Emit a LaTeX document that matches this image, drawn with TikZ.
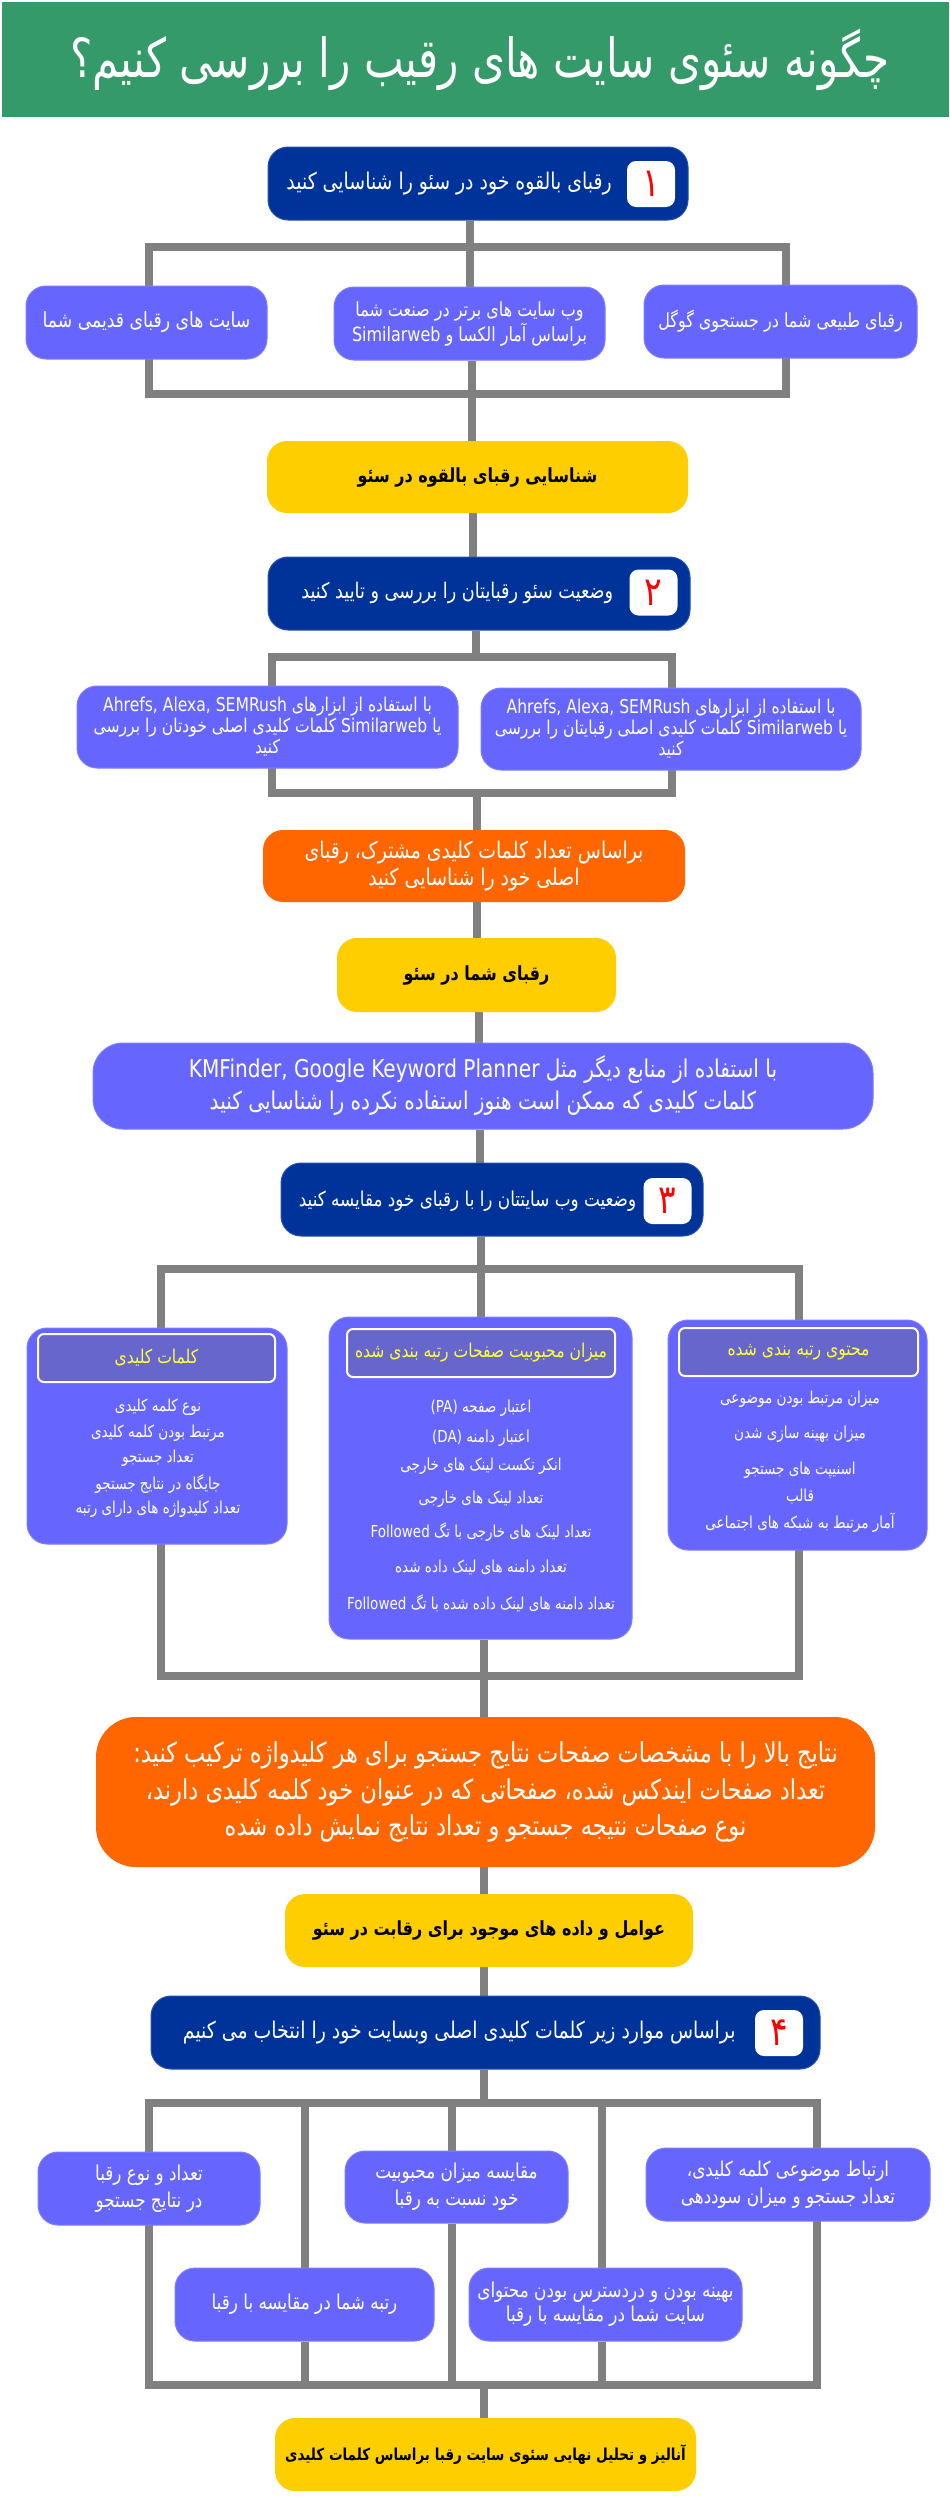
\documentclass[tikz,border=0pt]{standalone}
\usepackage{fontspec}
\usetikzlibrary{calc}
\TeXXeTstate=1
\newfontfamily\fa[Script=Arabic,FakeStretch=0.82]{DejaVu Sans}
\newfontfamily\fat[Script=Arabic,FakeStretch=0.78]{DejaVu Sans}
\newfontfamily\la[FakeStretch=0.82]{DejaVu Sans}
\newcommand{\rl}[1]{{\fa\beginR #1\endR}}
\newcommand{\lt}[1]{{\la\beginL #1\endL}}
\newcommand{\fz}[2]{\fontsize{#1}{#2}\selectfont}
\definecolor{hdrgreen}{RGB}{53,154,105}
\definecolor{dblue}{RGB}{0,51,153}
\definecolor{dbord}{RGB}{40,80,175}
\definecolor{peri}{RGB}{102,102,255}
\definecolor{pbord}{RGB}{125,125,255}
\definecolor{yel}{RGB}{255,206,0}
\definecolor{org}{RGB}{255,102,0}
\definecolor{hpur}{RGB}{102,102,204}
\definecolor{htxt}{RGB}{255,255,51}
\definecolor{lgray}{RGB}{128,128,128}
\pgfdeclarelayer{bottom}
\pgfdeclarelayer{background}
\pgfsetlayers{bottom,background,main}
\tikzset{
  hdr/.style={fill=hdrgreen, inner sep=0, minimum width=947pt, minimum height=115pt},
  ttl/.style={text=white, inner sep=0, font=\fz{54}{60}},
  stepbox/.style={fill=dblue, draw=dbord, line width=1pt, rounded corners=20pt, inner sep=0, minimum height=73pt},
  badge/.style={fill=white, rounded corners=9pt, inner sep=0, minimum width=48pt, minimum height=46pt, text=red, font=\fz{40}{40}},
  steptxt/.style={text=white, inner sep=0, anchor=east, font=\fz{22}{26}},
  pbox/.style={fill=peri, draw=pbord, line width=1pt, rounded corners=20pt, inner sep=0, text=white, align=center, font=\fz{19.5}{25}},
  ybox/.style={fill=yel, rounded corners=20pt, inner sep=0, text=black, align=center, font=\fz{19.5}{24}\bfseries},
  obox/.style={fill=org, rounded corners=24pt, inner sep=0, text=white, align=center, font=\fz{23}{27}},
  ihdr/.style={fill=hpur, draw=white, line width=2pt, rounded corners=6pt, inner sep=0, text=htxt, font=\fz{19}{22}},
  ltxt/.style={text=white, inner sep=0, font=\fz{16.5}{20}},
  conn/.style={draw=lgray, line width=8pt},
}
\begin{document}
\begin{tikzpicture}[x=1pt,y=-1pt]
\useasboundingbox (0,0) rectangle (950,2505);
\begin{pgfonlayer}{bottom}
\fill[white] (0,0) rectangle (950,2505);
\end{pgfonlayer}
% header
\node[hdr] (hdr) at (475.5,59.5) {};
\node[ttl] (ttl) at (480,60) {{\fat\beginR چگونه سئوی سایت های رقیب را بررسی کنیم؟\endR}};
% step 1
\node[stepbox, minimum width=420pt] (b1) at (478,183.5) {};
\node[badge] (n1) at (651,184) {\rl{۱}};
\node[steptxt, font=\fz{23}{26}] (t1) at ($(n1.west)+(-15,0)$) {\rl{رقبای بالقوه خود در سئو را شناسایی کنید}};
\node[pbox, minimum width=241pt, minimum height=73pt, font=\fz{21}{25}] (r1l) at (146.5,322.5) {\rl{سایت های رقبای قدیمی شما}};
\node[pbox, minimum width=271pt, minimum height=73pt] (r1m) at (469.5,323.5) {\rl{وب سایت های برتر در صنعت شما}\\\rl{براساس آمار الکسا و \lt{Similarweb}}};
\node[pbox, minimum width=273pt, minimum height=73pt] (r1r) at (780.5,321.5) {\rl{رقبای طبیعی شما در جستجوی گوگل}};
\node[ybox, minimum width=421pt, minimum height=72pt] (y1) at (477.5,477) {\rl{شناسایی رقبای بالقوه در سئو}};
% step 2
\node[stepbox, minimum width=422pt] (b2) at (479,593.5) {};
\node[badge] (n2) at (653.5,592.5) {\rl{۲}};
\node[steptxt, font=\fz{21.5}{26}] (t2) at ($(n2.west)+(-16,0)$) {\rl{وضعیت سئو رقبایتان را بررسی و تایید کنید}};
\node[pbox, minimum width=381pt, minimum height=82pt, font=\fz{19}{21}] (r2l) at (267.5,727) {\rl{با استفاده از ابزارهای \lt{Ahrefs, Alexa, SEMRush}}\\\rl{یا \lt{Similarweb}  کلمات کلیدی اصلی خودتان را بررسی}\\\rl{کنید}};
\node[pbox, minimum width=380pt, minimum height=82pt, font=\fz{19}{21}] (r2r) at (671,729) {\rl{با استفاده از ابزارهای \lt{Ahrefs, Alexa, SEMRush}}\\\rl{یا \lt{Similarweb}  کلمات کلیدی اصلی رقبایتان را بررسی}\\\rl{کنید}};
\node[obox, minimum width=422pt, minimum height=72pt, rounded corners=20pt] (o1) at (474,866) {\rl{براساس تعداد کلمات کلیدی مشترک، رقبای}\\\rl{اصلی خود را شناسایی کنید}};
\node[ybox, minimum width=279pt, minimum height=74pt] (y2) at (476.5,975) {\rl{رقبای شما در سئو}};
\node[pbox, minimum width=780pt, minimum height=86pt, rounded corners=30pt, font=\fz{24.5}{32}] (wide) at (483,1086) {\rl{با استفاده از منابع دیگر مثل  \lt{KMFinder, Google Keyword Planner}}\\\rl{کلمات کلیدی که ممکن است هنوز استفاده نکرده را شناسایی کنید}};
% step 3
\node[stepbox, minimum width=422pt] (b3) at (492,1199.5) {};
\node[badge] (n3) at (667.5,1201) {\rl{۳}};
\node[steptxt, font=\fz{20.5}{26}] (t3) at ($(n3.west)+(-7,0)$) {\rl{وضعیت وب سایتتان را با رقبای خود مقایسه کنید}};
\node[pbox, minimum width=260pt, minimum height=216pt] (r3l) at (157,1436) {};
\node[pbox, minimum width=303pt, minimum height=322pt] (r3m) at (480.5,1478) {};
\node[pbox, minimum width=259pt, minimum height=230pt] (r3r) at (797.5,1435) {};
\node[ihdr, minimum width=237pt, minimum height=48pt] (h3l) at (156.5,1358) {\rl{کلمات کلیدی}};
\node[ihdr, minimum width=268pt, minimum height=48pt] (h3m) at (481,1353) {\rl{میزان محبوبیت صفحات رتبه بندی شده}};
\node[ihdr, minimum width=239pt, minimum height=48pt] (h3r) at (798.5,1352) {\rl{محتوی رتبه بندی شده}};
% left list
\node[ltxt] (l1) at (158,1407) {\rl{نوع کلمه کلیدی}};
\node[ltxt] (l2) at (158,1433) {\rl{مرتبط بودن کلمه کلیدی}};
\node[ltxt] (l3) at (158,1458) {\rl{تعداد جستجو}};
\node[ltxt] (l4) at (158,1484) {\rl{جایگاه در نتایج جستجو}};
\node[ltxt] (l5) at (158,1509) {\rl{تعداد کلیدواژه های دارای رتبه}};
% middle list
\node[ltxt] (m1) at (481,1408) {\rl{اعتبار صفحه \lt{(PA)}}};
\node[ltxt] (m2) at (481,1438) {\rl{اعتبار دامنه \lt{(DA)}}};
\node[ltxt] (m3) at (481,1466) {\rl{انکر تکست لینک های خارجی}};
\node[ltxt] (m4) at (481,1499) {\rl{تعداد لینک های خارجی}};
\node[ltxt] (m5) at (481,1532) {\rl{تعداد لینک های خارجی با تگ \lt{Followed}}};
\node[ltxt] (m6) at (481,1567) {\rl{تعداد دامنه های لینک داده شده}};
\node[ltxt] (m7) at (481,1603) {\rl{تعداد دامنه های لینک داده شده با تگ  \lt{Followed}}};
% right list
\node[ltxt] (q1) at (800,1399) {\rl{میزان مرتبط بودن موضوعی}};
\node[ltxt] (q2) at (800,1434) {\rl{میزان بهینه سازی شدن}};
\node[ltxt] (q3) at (800,1470) {\rl{اسنیپت های جستجو}};
\node[ltxt] (q4) at (800,1497) {\rl{قالب}};
\node[ltxt] (q5) at (800,1523) {\rl{آمار مرتبط به شبکه های اجتماعی}};
\node[obox, minimum width=779pt, minimum height=150pt, rounded corners=40pt, font=\fz{27.5}{36.5}] (o2) at (485.5,1792) {\rl{نتایج بالا را با مشخصات صفحات نتایج جستجو برای هر کلیدواژه ترکیب کنید:}\\\rl{تعداد صفحات ایندکس شده، صفحاتی که در عنوان خود کلمه کلیدی دارند،}\\\rl{نوع صفحات نتیجه جستجو و تعداد نتایج نمایش داده شده}};
\node[ybox, minimum width=408pt, minimum height=73pt] (y3) at (489,1930.5) {\rl{عوامل و داده های موجود برای رقابت در سئو}};
% step 4
\node[stepbox, minimum width=669pt] (b4) at (485.5,2032.5) {};
\node[badge] (n4) at (779,2033) {\rl{۴}};
\node[steptxt, font=\fz{23}{26}] (t4) at ($(n4.west)+(-19,0)$) {\rl{براساس موارد زیر کلمات کلیدی اصلی وبسایت خود را انتخاب می کنیم}};
\node[pbox, minimum width=222pt, minimum height=73pt, font=\fz{20.5}{27}] (r4a) at (149,2188.5) {\rl{تعداد و نوع رقبا}\\\rl{در نتایج جستجو}};
\node[pbox, minimum width=223pt, minimum height=72pt, font=\fz{20.5}{27}] (r4b) at (456.5,2187) {\rl{مقایسه میزان محبوبیت}\\\rl{خود نسبت به رقبا}};
\node[pbox, minimum width=284pt, minimum height=73pt, font=\fz{20.5}{27}] (r4c) at (788,2184.5) {\rl{ارتباط موضوعی کلمه کلیدی،}\\\rl{تعداد جستجو و میزان سوددهی}};
\node[pbox, minimum width=259pt, minimum height=73pt, font=\fz{20.5}{27}] (r4d) at (304.5,2304.5) {\rl{رتبه شما در مقایسه با رقبا}};
\node[pbox, minimum width=273pt, minimum height=73pt, font=\fz{20.5}{24}] (r4e) at (605.5,2304.5) {\rl{بهینه بودن و دردسترس بودن محتوای}\\\rl{سایت شما در مقایسه با رقبا}};
\node[ybox, minimum width=421pt, minimum height=73pt, font=\fz{16.5}{24}\bfseries] (yf) at (485.5,2454.5) {\rl{آنالیز و تحلیل نهایی سئوی سایت رقبا براساس کلمات کلیدی}};
% connectors
\begin{pgfonlayer}{background}
\coordinate (k1a) at (149,247); \coordinate (k1b) at (786,394);
\coordinate (k1t) at (470,247); \coordinate (k1u) at (472,394);
\draw[conn] (k1a) rectangle (k1b);
\draw[conn] (b1.south -| k1t) -- (k1t) -- (r1m.north -| k1t);
\draw[conn] (r1m.south -| k1u) -- (k1u) -- (y1.north -| k1u);
\coordinate (c12) at (473,0);
\draw[conn] (y1.south -| c12) -- (b2.north -| c12);
\coordinate (k2a) at (272,657); \coordinate (k2b) at (672,793);
\coordinate (k2t) at (476,657); \coordinate (k2u) at (477,793);
\draw[conn] (k2a) rectangle (k2b);
\draw[conn] (b2.south -| k2t) -- (k2t);
\draw[conn] (k2u) -- (o1.north -| k2u);
\draw[conn] (o1.south -| k2u) -- (y2.north -| k2u);
\coordinate (c23) at (479,0); \coordinate (c24) at (480,0);
\draw[conn] (y2.south -| c23) -- (wide.north -| c23);
\draw[conn] (wide.south -| c24) -- (b3.north -| c24);
\coordinate (k3a) at (161,1269); \coordinate (k3b) at (799,1676);
\coordinate (k3t) at (481,1269); \coordinate (k3u) at (484,1676);
\draw[conn] (k3a) rectangle (k3b);
\draw[conn] (b3.south -| k3t) -- (k3t) -- (r3m.north -| k3t);
\draw[conn] (r3m.south -| k3u) -- (k3u) -- (o2.north -| k3u);
\draw[conn] (o2.south -| k3u) -- (y3.north -| k3u);
\draw[conn] (y3.south -| k3u) -- (b4.north -| k3u);
\coordinate (k4a) at (149,2103); \coordinate (k4b) at (817,2385);
\coordinate (k4t) at (484,2103); \coordinate (k4u) at (484,2385);
\draw[conn] (k4a) rectangle (k4b);
\draw[conn] (b4.south -| k4t) -- (k4t);
\draw[conn] (k4u) -- (yf.north -| k4u);
\coordinate (v1t) at (305,2103); \coordinate (v1b) at (305,2385);
\coordinate (v2t) at (452,2103); \coordinate (v2b) at (452,2385);
\coordinate (v3t) at (602,2103); \coordinate (v3b) at (602,2385);
\draw[conn] (v1t) -- (r4d.north -| v1t); \draw[conn] (r4d.south -| v1b) -- (v1b);
\draw[conn] (v2t) -- (r4b.north -| v2t); \draw[conn] (r4b.south -| v2b) -- (v2b);
\draw[conn] (v3t) -- (r4e.north -| v3t); \draw[conn] (r4e.south -| v3b) -- (v3b);
\end{pgfonlayer}
\end{tikzpicture}
\end{document}
